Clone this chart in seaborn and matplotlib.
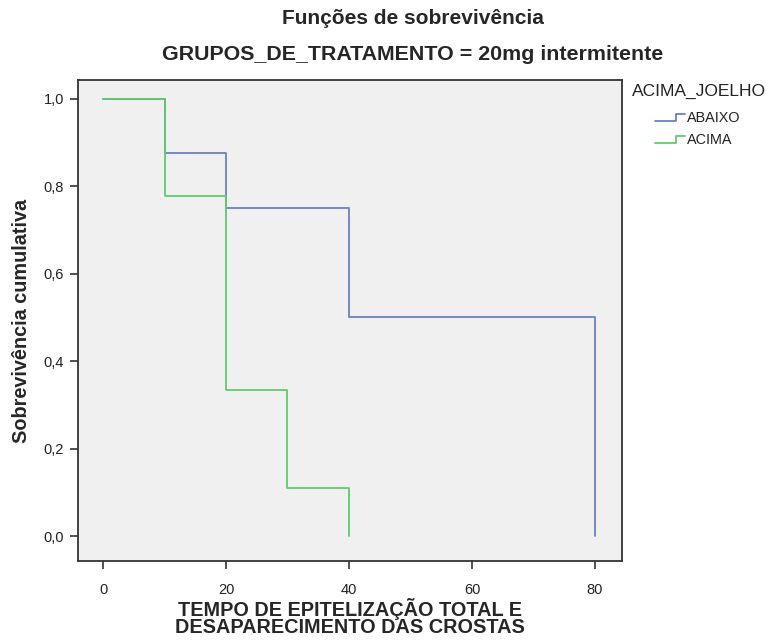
import matplotlib
matplotlib.use("Agg")
import matplotlib.pyplot as plt
import seaborn as sns
import pandas as pd
from matplotlib.lines import Line2D
from matplotlib.legend_handler import HandlerBase

# Data
groups = ["ABAIXO", "ACIMA"]
abaixo_time = [0, 10, 20, 40, 80]
abaixo_surv = [1.0, 0.875, 0.75, 0.5, 0.0]
acima_time = [0, 10, 20, 30, 40]
acima_surv = [1.0, 0.778, 0.333, 0.111, 0.0]
x_ticks = [0, 20, 40, 60, 80]
y_ticks = [0.0, 0.2, 0.4, 0.6, 0.8, 1.0]
y_tick_labels = ["0,0", "0,2", "0,4", "0,6", "0,8", "1,0"]

colors = {"ABAIXO": "#6a7fcc", "ACIMA": "#5ecb6e"}

df = pd.concat([
    pd.DataFrame({"tempo": abaixo_time, "surv": abaixo_surv, "grupo": "ABAIXO"}),
    pd.DataFrame({"tempo": acima_time, "surv": acima_surv, "grupo": "ACIMA"}),
], ignore_index=True)

sns.set_style("white")
plt.rcParams["font.family"] = ["Liberation Sans", "DejaVu Sans"]

fig = plt.figure(figsize=(7.66, 6.41), dpi=100)
ax = fig.add_axes([78/766, 1-561/641, (622-78)/766, (561-80)/641])
ax.set_facecolor("#f0f0f0")

for g in groups:
    sub = df[df["grupo"] == g]
    sns.lineplot(data=sub, x="tempo", y="surv", color=colors[g], drawstyle="steps-post",
                 estimator=None, sort=False, lw=1.3, ax=ax, legend=False)

ax.set_xlim(-4.07, 84.4)
ax.set_ylim(-0.057, 1.043)
ax.set_xticks(x_ticks)
ax.set_xticklabels([str(t) for t in x_ticks])
ax.set_yticks(y_ticks)
ax.set_yticklabels(y_tick_labels)
ax.tick_params(axis="both", direction="out", length=6, width=1.2, color="#333333",
               labelsize=10.5, labelcolor="#222222", left=True, bottom=True)
ax.tick_params(axis="x", pad=10)
ax.tick_params(axis="y", pad=4)
for s in ax.spines.values():
    s.set_visible(True)
    s.set_color("#333333")
    s.set_linewidth(1.3)

ax.set_xlabel("TEMPO DE EPITELIZAÇÃO TOTAL E\nDESAPARECIMENTO DAS CROSTAS",
              fontsize=14.3, fontweight="bold", linespacing=0.88)
ax.xaxis.set_label_coords(0.5, (561 - 598) / 481)
ax.set_ylabel("Sobrevivência cumulativa", fontsize=14.3, fontweight="bold", labelpad=9)

fig.text(413/766, 1-18/641, "Funções de sobrevivência", ha="center", va="center",
         fontsize=15, fontweight="bold")
fig.text(413/766, 1-55/641, "GRUPOS_DE_TRATAMENTO = 20mg intermitente", ha="center", va="center",
         fontsize=15.4, fontweight="bold")
fig.text(632/766, 1-91/641, "ACIMA_JOELHO", ha="left", va="center", fontsize=12.5,
         color="#222222")


class StepHandler(HandlerBase):
    def create_artists(self, legend, orig_handle, xdescent, ydescent, width, height, fontsize, trans):
        c = orig_handle.get_color()
        y0 = height * 0.1
        y1 = height * 0.8
        xs = [0, width * 0.7, width * 0.7, width]
        ys = [y0, y0, y1, y1]
        ln = Line2D(xs, ys, color=c, lw=1.3, transform=trans)
        return [ln]

handles = [Line2D([], [], color=colors[g]) for g in groups]
leg = fig.legend(handles, groups, loc="upper left",
                 bbox_to_anchor=(652/766, 1-108/641), frameon=False, fontsize=10.4,
                 handler_map={Line2D: StepHandler()},
                 handlelength=2.1, handletextpad=0.1, labelspacing=0.55,
                 borderpad=0.2, borderaxespad=0)
for t in leg.get_texts():
    t.set_color("#222222")

fig.savefig("out.png", dpi=100)
